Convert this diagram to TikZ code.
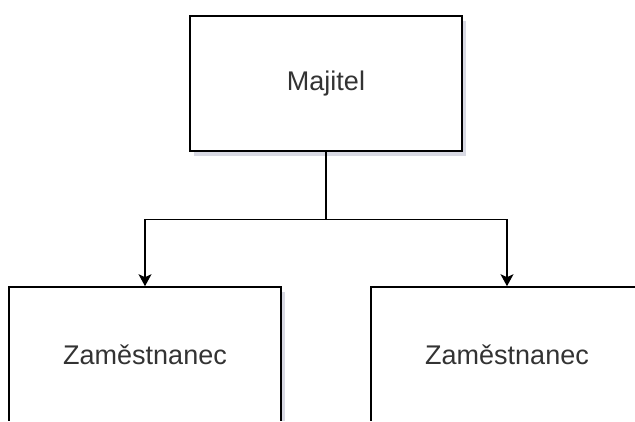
\documentclass[tikz,border=0pt]{standalone}
\usepackage{fontspec}
\setmainfont{Liberation Sans}
\usetikzlibrary{arrows.meta,shadows}

\definecolor{txtgray}{HTML}{333333}
\definecolor{shadowgray}{HTML}{C8CAD8}

\begin{document}
\begin{tikzpicture}[x=1pt,y=-1pt,
  box/.style={draw=black, line width=1.6pt, fill=white,
    minimum width=272pt, minimum height=135pt, inner sep=0pt,
    text=txtgray, font=\fontsize{27}{32}\selectfont,
    drop shadow={shadow xshift=4pt, shadow yshift=-5pt, fill=shadowgray, opacity=0.7}},
  link/.style={draw=black, line width=1.3pt,
    -{Stealth[width=13pt,length=12pt,inset=3pt]}}]

\useasboundingbox (0,0) rectangle (635,422);
\fill[white] (0,0) rectangle (635,422);
\clip (0,0) rectangle (635,420.5);

% boxes
\node[box] (owner) at (326,83.5) {Majitel};
\node[box] (emp1) at (145,354.5) {Zaměstnanec};
\node[box] (emp2) at (507,354.5) {Zaměstnanec};

% connectors
\draw[link] (owner.south) -- ++(0,68) -| (emp1.north);
\draw[link] (owner.south) -- ++(0,68) -| (emp2.north);

\end{tikzpicture}
\end{document}
